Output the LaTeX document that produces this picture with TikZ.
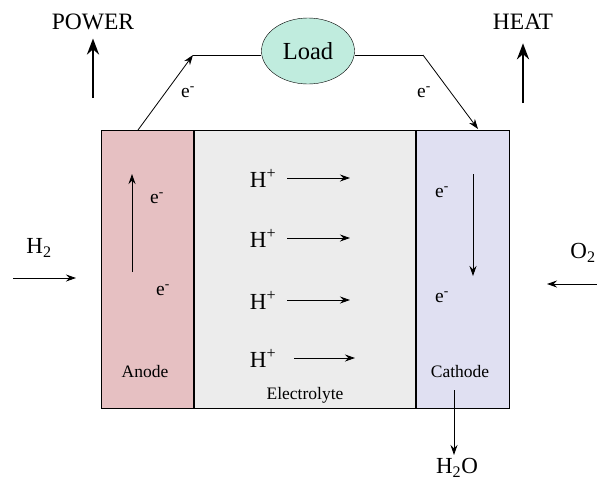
\documentclass[tikz,border=0pt]{standalone}
\usepackage{fontspec}
\setmainfont{Liberation Serif}
\usepackage{tikz}
\usetikzlibrary{arrows.meta, shapes.geometric}
\definecolor{anodefill}{RGB}{230,192,194}
\definecolor{electfill}{RGB}{236,236,236}
\definecolor{cathfill}{RGB}{224,224,242}
\definecolor{loadfill}{RGB}{192,236,222}

\begin{document}
\begin{tikzpicture}[
    x=1pt, y=-1pt,
    region/.style={rectangle, draw, line width=1.2pt, inner sep=0pt, anchor=north west},
    layer/.style={font=\fontsize{17.5}{19}\selectfont},
    big/.style={font=\fontsize{23.5}{26}\selectfont},
    chem/.style={font=\fontsize{23}{26}\selectfont},
    elec/.style={font=\fontsize{19.5}{22}\selectfont},
    wire/.style={draw, line width=0.8pt},
    flow/.style={draw, line width=0.9pt, -{Stealth[length=10pt, width=7pt]}},
    output/.style={draw, line width=2.8pt, -{Stealth[length=16pt, width=12pt]}}
]
  \useasboundingbox (0,0) rectangle (597,483);
  % cell
  \node[region, fill=anodefill, minimum width=92pt, minimum height=278pt] (anode) at (101,130) {};
  \node[region, fill=electfill, minimum width=223pt, minimum height=278pt] (elyte) at (193,130) {};
  \node[region, fill=cathfill, minimum width=93pt, minimum height=278pt] (cathode) at (416,130) {};
  \draw[line width=2.2pt] (anode.north east) -- (anode.south east);
  \draw[line width=2.2pt] (cathode.north west) -- (cathode.south west);
  \node[layer] (anodelbl) at (145,372) {Anode};
  \node[layer] (elytelbl) at (305,395) {Electrolyte};
  \node[layer] (cathlbl) at (460,372) {Cathode};

  % external circuit
  \node[ellipse, draw, fill=loadfill, minimum width=93pt, minimum height=66pt, inner sep=0pt,
        font=\fontsize{24.5}{26}\selectfont] (load) at (308,51) {Load};
  \coordinate (anodeout) at (138,130);
  \coordinate (bendL) at (193,55);
  \coordinate (bendR) at (423,55);
  \coordinate (cathin) at (478,129);
  \draw[flow, line width=0.8pt] (anodeout) -- (bendL);
  \draw[wire] (bendL) -- (load.west |- bendL);
  \draw[wire] (load.east |- bendR) -- (bendR);
  \draw[flow, line width=0.8pt] (bendR) -- (cathin);
  \node[elec] (eL) at (188,92) {e\textsuperscript{-}};
  \node[elec] (eR) at (424,92) {e\textsuperscript{-}};

  % power and heat
  \node[big] (power) at (93,22) {POWER};
  \node[big] (heat) at (523,22) {HEAT};
  \coordinate (powerbase) at (93,98);
  \coordinate (heatbase) at (523,103);
  \draw[output] (powerbase) -- ([yshift=-5pt]power.south);
  \draw[output] (heatbase) -- ([yshift=-10pt]heat.south);

  % electrons in the electrodes
  \node[elec] (ea1) at (157,198) {e\textsuperscript{-}};
  \node[elec] (ea2) at (163,290) {e\textsuperscript{-}};
  \coordinate (abot) at (132,272);
  \coordinate (atop) at (132,174);
  \draw[flow] (abot) -- (atop);
  \node[elec] (ec1) at (442,192) {e\textsuperscript{-}};
  \node[elec] (ec2) at (442,297) {e\textsuperscript{-}};
  \coordinate (ctop) at (473,174);
  \coordinate (cbot) at (473,276);
  \draw[flow] (ctop) -- (cbot);

  % protons through the electrolyte
  \foreach \i/\y/\s/\e in {1/178/287/350, 2/238/287/350, 3/300/287/350, 4/358/294/355} {
    \node[chem] (hp\i) at (263,\y) {H\textsuperscript{+}};
    \coordinate (hs\i) at (\s,\y);
    \coordinate (he\i) at (\e,\y);
    \draw[flow] (hs\i) -- (he\i);
  }

  % fuel, oxidant, product
  \node[chem] (htwo) at (39,248) {H\textsubscript{2}};
  \coordinate (hin) at (13,278);
  \coordinate (htip) at (76,278);
  \draw[flow] (hin) -- (htip);
  \node[chem] (otwo) at (583,253) {O\textsubscript{2}};
  \coordinate (oin) at (597,284);
  \coordinate (otip) at (547,284);
  \draw[flow] (oin) -- (otip);
  \coordinate (wsrc) at (454,390);
  \node[chem] (water) at (457,468) {H\textsubscript{2}O};
  \draw[flow] (wsrc) -- (wsrc |- water.north);
\end{tikzpicture}
\end{document}
